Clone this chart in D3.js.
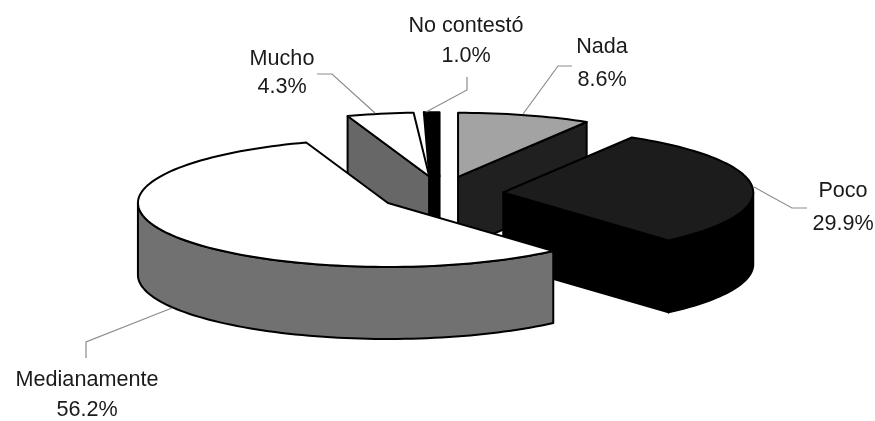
<!DOCTYPE html>
<html><head><meta charset="utf-8">
<script src="https://cdnjs.cloudflare.com/ajax/libs/d3/7.8.5/d3.min.js"></script>
<style>html,body{margin:0;padding:0;background:#fff}svg{display:block}.soft{filter:blur(0.45px)}</style></head>
<body><svg id="c" width="875" height="421"></svg>
<script>
const categories=["Nada","Poco","Medianamente","Mucho","No contestó"];
const values=[8.6,29.9,56.2,4.3,1.0];
const tickLabels=["8.6%","29.9%","56.2%","4.3%","1.0%"];
const topColors=["#a3a3a3","#1c1c1c","#ffffff","#ffffff","#000000"];
const wallColors=["#202020","#000000","#717171","#676767","#000000"];
const drawOrder=[0,3,4,1,2];
const labelAnchors=[[602,53,86],[843,197,230],[87,386,416],[282,65,93],[466,32,62]];
const leaders=[[[523,114],[558,66],[572,66]],[[754,187],[792,208],[807,208]],[[172,308],[86,342],[86,358]],[[375,113],[332,74],[317,74]],[[426,112],[467,90],[467,77]]];

const W=875,H=421,CX=441.5,CY=194,RX=250,RY=64,EX=62,EY=17.8,DEPTH=72;
const svg=d3.select("#c");
const sx=d3.scaleLinear().domain([-1,1]).range([-RX,RX]);
const sy=d3.scaleLinear().domain([-1,1]).range([RY,-RY]);
const arcs=d3.pie().sort(null).value(d=>d).startAngle(0).endAngle(2*Math.PI)(values);
const line=d3.line().x(d=>d[0]).y(d=>d[1]);
const apex=d=>{const m=(d.startAngle+d.endAngle)/2;return [CX+EX*Math.sin(m),CY-EY*Math.cos(m)];};

function arcPts(c,a,b){const n=Math.max(2,Math.ceil((b-a)/0.03)),p=[];
  for(let i=0;i<=n;i++){const t=a+(b-a)*i/n;p.push([c[0]+sx(Math.sin(t)),c[1]+sy(Math.cos(t))]);}
  return p;}
const down=q=>[q[0],q[1]+DEPTH];

const g=svg.append("g").attr("class","soft");
function poly(pts,fill){g.append("path").attr("d",line(pts)+"Z").attr("fill",fill)
  .attr("stroke","#000").attr("stroke-width",2).attr("stroke-linejoin","round");}

drawOrder.forEach(i=>{
  const d=arcs[i],c=apex(d),last=i===arcs.length-1;
  const a=d.startAngle,b=d.endAngle,wall=wallColors[i];
  if(last){const p=apex(arcs[i-1]),o=arcPts(c,a,a)[0];poly([c,o,p,down(p),down(c)],wall);}
  else if(Math.sin(a)<-1e-6){const o=arcPts(c,a,a)[0];poly([c,o,down(o),down(c)],wall);}
  if(Math.sin(b)>1e-6){const o=arcPts(c,b,b)[0];poly([c,o,down(o),down(c)],wall);}
  const wa=Math.max(a,Math.PI/2),wb=Math.min(b,3*Math.PI/2);
  if(wb>wa){const p=arcPts(c,wa,wb);poly(p.concat(p.map(down).reverse()),wall);}
  poly([c].concat(arcPts(c,a,b)),topColors[i]);
});

const lg=svg.append("g").attr("class","soft");
leaders.forEach(l=>lg.append("path").attr("d",line(l)).attr("fill","none").attr("stroke","#8c8c8c").attr("stroke-width",1.2));
const tg=svg.append("g").attr("class","soft").attr("font-family","'Liberation Sans',Arial,sans-serif").attr("font-size",21.6).attr("fill","#1a1a1a").attr("text-anchor","middle");
categories.forEach((n,i)=>{const a=labelAnchors[i];
  tg.append("text").attr("x",a[0]).attr("y",a[1]).text(n);
  tg.append("text").attr("x",a[0]).attr("y",a[2]).text(tickLabels[i]);
});
</script></body></html>
